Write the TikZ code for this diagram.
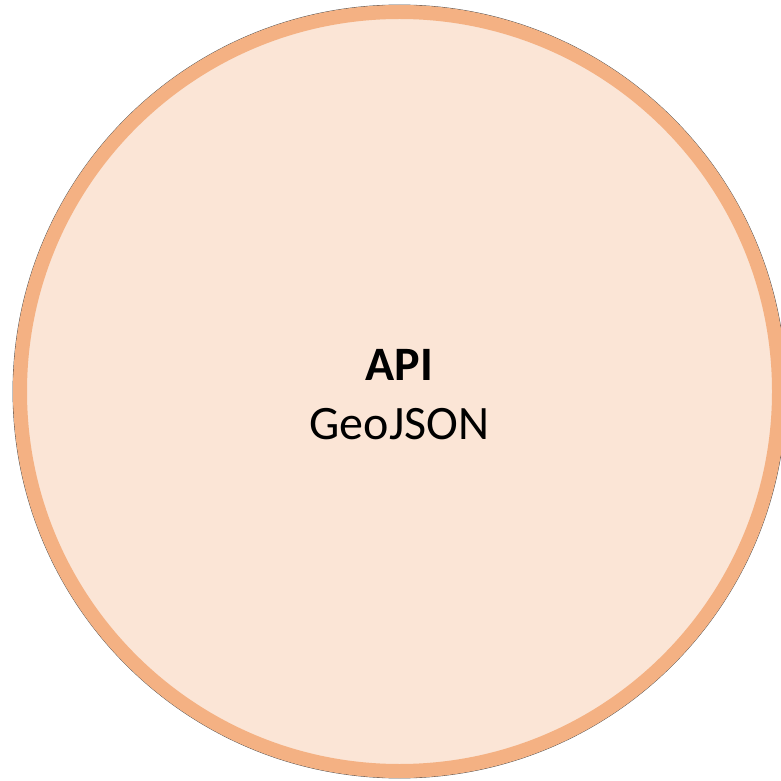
\documentclass[tikz,border=0pt]{standalone}
\usepackage{fontspec}
\setmainfont{Carlito}
\usepackage{tikz}

\definecolor{peach}{HTML}{FBE5D6}
\definecolor{ringorange}{HTML}{F4B183}

\begin{document}
\begin{tikzpicture}[x=1pt, y=1pt]
    \useasboundingbox (0,0) rectangle (781,780);
    \node[circle, draw=black!70, line width=0.8pt, minimum size=773pt, inner sep=0pt] (edge) at (399.5,388.5) {};
    \node[circle, draw=ringorange, fill=peach, line width=14pt, minimum size=759pt, inner sep=0pt] (disc) at (399.5,388.5) {};

    \node[align=center, font=\fontsize{48}{59}\selectfont, yshift=-3pt] (api) at (disc.center) {\textbf{API}\\GeoJSON};
  \end{tikzpicture}
\end{document}
